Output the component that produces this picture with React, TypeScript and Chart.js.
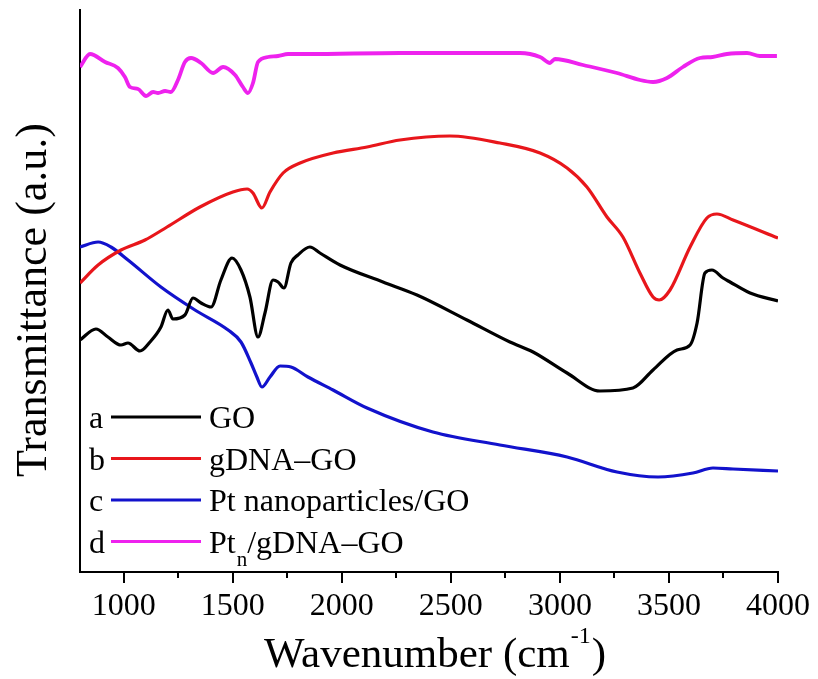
import React, { useEffect, useRef } from 'react';
import { Chart, registerables } from 'chart.js';

Chart.register(...registerables);

const FONT = "'Liberation Serif', 'Times New Roman', serif";
Chart.defaults.font.family = FONT;

const xMin = 800;
const xMax = 4000;
const yMin = 0;
const yMax = 562;
const xTicks = [1000, 1500, 2000, 2500, 3000, 3500, 4000];
const xMinorTicks = [1250, 1750, 2250, 2750, 3250, 3750];

const legendLetters = ['a', 'b', 'c', 'd'];
const seriesNames = ['GO', 'gDNA–GO', 'Pt nanoparticles/GO', 'Pt_n/gDNA–GO'];
const seriesColors = ['#000000', '#e8161b', '#1212cc', '#ee22ee'];
const seriesWidths = [3.2, 3.2, 3.2, 3.8];

const xTitle = 'Wavenumber (cm';
const xTitleSup = '-1';
const xTitleEnd = ')';
const yTitle = 'Transmittance (a.u.)';

// a: GO
const goWavenumbers = [800, 873, 928, 988, 1020, 1075, 1121, 1171, 1203, 1226, 1281, 1318, 1355, 1401, 1446, 1497, 1538, 1579, 1616, 1648, 1685, 1708, 1735, 1767, 1799, 1854, 1900, 1992, 2189, 2345, 2574, 2771, 2877, 3033, 3184, 3335, 3427, 3537, 3597, 3629, 3665, 3697, 3748, 3780, 3872, 4000];
const goValues = [232, 243, 235, 227, 229, 221, 230, 245, 262, 253, 257, 274, 269, 265, 292, 314, 302, 275, 235, 259, 292, 290, 284, 309, 317, 325, 319, 307, 290, 277, 252, 230, 220, 199, 181, 184, 202, 222, 227, 249, 299, 302, 294, 290, 279, 271];

// b: gDNA–GO
const gdnaWavenumbers = [800, 883, 988, 1098, 1199, 1350, 1501, 1566, 1593, 1634, 1671, 1731, 1809, 1960, 2116, 2267, 2496, 2725, 2909, 3033, 3124, 3216, 3289, 3367, 3427, 3455, 3505, 3597, 3674, 3720, 3794, 4000];
const gdnaValues = [289, 307, 322, 332, 345, 365, 380, 383, 379, 364, 380, 399, 409, 419, 425, 432, 436, 429, 419, 404, 385, 355, 335, 299, 275, 272, 282, 325, 354, 358, 352, 334];

// c: Pt nanoparticles/GO
const ptGoWavenumbers = [800, 883, 942, 1020, 1171, 1327, 1479, 1538, 1584, 1611, 1634, 1671, 1717, 1767, 1845, 1960, 2116, 2418, 2725, 3033, 3262, 3450, 3610, 3702, 3794, 4000];
const ptGoValues = [325, 330, 325, 312, 285, 262, 242, 230, 209, 195, 185, 195, 206, 205, 195, 182, 164, 140, 127, 115, 100, 95, 99, 104, 103, 101];

// d: Pt_n/gDNA–GO
const ptnWavenumbers = [800, 846, 915, 974, 1006, 1029, 1066, 1103, 1135, 1158, 1190, 1217, 1249, 1281, 1309, 1355, 1410, 1456, 1511, 1547, 1570, 1593, 1616, 1662, 1708, 1754, 1845, 2267, 2817, 2909, 2955, 2965, 2978, 3106, 3262, 3367, 3427, 3491, 3564, 3642, 3700, 3766, 3858, 3917, 3995];
const ptnValues = [505, 518, 510, 504, 495, 485, 483, 476, 480, 479, 481, 480, 492, 510, 514, 509, 499, 505, 497, 485, 479, 489, 510, 515, 516, 518, 518, 519, 519, 515, 509, 511, 513, 507, 499, 492, 490, 494, 505, 514, 515, 518, 519, 516, 516];

const seriesWavenumbers = [goWavenumbers, gdnaWavenumbers, ptGoWavenumbers, ptnWavenumbers];
const seriesValues = [goValues, gdnaValues, ptGoValues, ptnValues];

function drawLabelWithSub(ctx: CanvasRenderingContext2D, text: string, x: number, y: number, size: number) {
  const parts = text.split('_');
  let cx = x;
  ctx.font = `${size}px ${FONT}`;
  ctx.fillText(parts[0], cx, y);
  cx += ctx.measureText(parts[0]).width;
  if (parts.length > 1) {
    const sub = parts[1].charAt(0);
    const rest = parts[1].slice(1);
    ctx.font = `${Math.round(size * 0.66)}px ${FONT}`;
    ctx.fillText(sub, cx + 1, y + 13);
    cx += ctx.measureText(sub).width + 1;
    ctx.font = `${size}px ${FONT}`;
    ctx.fillText(rest, cx, y);
  }
}

const decorPlugin = {
  id: 'decor',
  afterDraw(chart: any) {
    const ctx: CanvasRenderingContext2D = chart.ctx;
    const xs = chart.scales.x;
    const area = chart.chartArea;
    ctx.save();
    // minor ticks
    ctx.strokeStyle = '#000';
    ctx.lineWidth = 2;
    for (const v of xMinorTicks) {
      const px = Math.round(xs.getPixelForValue(v));
      ctx.beginPath();
      ctx.moveTo(px, area.bottom);
      ctx.lineTo(px, area.bottom + 6);
      ctx.stroke();
    }
    // legend
    const rowBase = [428, 469.5, 511, 552.5];
    ctx.textBaseline = 'alphabetic';
    ctx.textAlign = 'left';
    chart.data.datasets.forEach((ds: any, i: number) => {
      const by = rowBase[i];
      ctx.font = `32px ${FONT}`;
      ctx.fillStyle = '#000';
      ctx.fillText(legendLetters[i], 89, by);
      ctx.strokeStyle = ds.borderColor;
      ctx.lineWidth = 3.2;
      ctx.beginPath();
      ctx.moveTo(111, by - 11);
      ctx.lineTo(201, by - 11);
      ctx.stroke();
      ctx.fillStyle = '#000';
      drawLabelWithSub(ctx, ds.label, 209, by, 32);
    });
    // x title
    ctx.fillStyle = '#000';
    ctx.font = `43px ${FONT}`;
    const w1 = ctx.measureText(xTitle).width;
    const w3 = ctx.measureText(xTitleEnd).width;
    ctx.font = `24px ${FONT}`;
    const w2 = ctx.measureText(xTitleSup).width;
    const total = w1 + w2 + w3 + 2;
    let sx = 435 - total / 2;
    ctx.font = `43px ${FONT}`;
    ctx.fillText(xTitle, sx, 667);
    sx += w1 + 1;
    ctx.font = `24px ${FONT}`;
    ctx.fillText(xTitleSup, sx, 643);
    sx += w2 + 1;
    ctx.font = `43px ${FONT}`;
    ctx.fillText(xTitleEnd, sx, 667);
    // y title
    ctx.save();
    ctx.translate(46, 300);
    ctx.rotate(-Math.PI / 2);
    ctx.textAlign = 'center';
    ctx.font = `44px ${FONT}`;
    ctx.fillText(yTitle, 0, 0);
    ctx.restore();
    ctx.restore();
  },
};

export default function App() {
  const ref = useRef<HTMLCanvasElement | null>(null);
  useEffect(() => {
    document.body.style.margin = '0';
    const canvas = ref.current!;
    const datasets = seriesNames.map((name, i) => ({
      label: name,
      data: seriesWavenumbers[i].map((x, j) => ({ x, y: seriesValues[i][j] })),
      borderColor: seriesColors[i],
      backgroundColor: seriesColors[i],
      borderWidth: seriesWidths[i],
      pointRadius: 0,
      cubicInterpolationMode: 'monotone' as const,
      fill: false,
    }));
    const chart = new Chart(canvas, {
      type: 'line',
      data: { datasets },
      options: {
        animation: false,
        responsive: false,
        devicePixelRatio: 1,
        font: { family: FONT },
        layout: { padding: { top: 10, right: 40, left: 0, bottom: 0 } },
        plugins: { legend: { display: false }, tooltip: { enabled: false } },
        scales: {
          x: {
            type: 'linear',
            min: xMin,
            max: xMax,
            afterBuildTicks: (s: any) => {
              s.ticks = xTicks.map((v) => ({ value: v }));
            },
            afterFit: (s: any) => {
              s.height = 107;
            },
            grid: { display: true, drawOnChartArea: false, drawTicks: true, tickLength: 11, color: '#000', lineWidth: 2 },
            border: { display: true, color: '#000', width: 2 },
            ticks: {
              color: '#000',
              font: { family: FONT, size: 32 },
              padding: 4,
              maxRotation: 0,
              autoSkip: false,
              callback: (v: any) => String(v),
            },
          },
          y: {
            type: 'linear',
            min: yMin,
            max: yMax,
            afterFit: (s: any) => {
              s.width = 80;
            },
            grid: { display: false },
            border: { display: true, color: '#000', width: 2 },
            ticks: { display: false },
          },
        },
      },
      plugins: [decorPlugin],
    });
    return () => chart.destroy();
  }, []);
  return (
    <div style={{ position: 'absolute', left: 0, top: 0, width: 818, height: 679 }}>
      <canvas ref={ref} width={818} height={679} style={{ width: 818, height: 679 }} />
    </div>
  );
}
